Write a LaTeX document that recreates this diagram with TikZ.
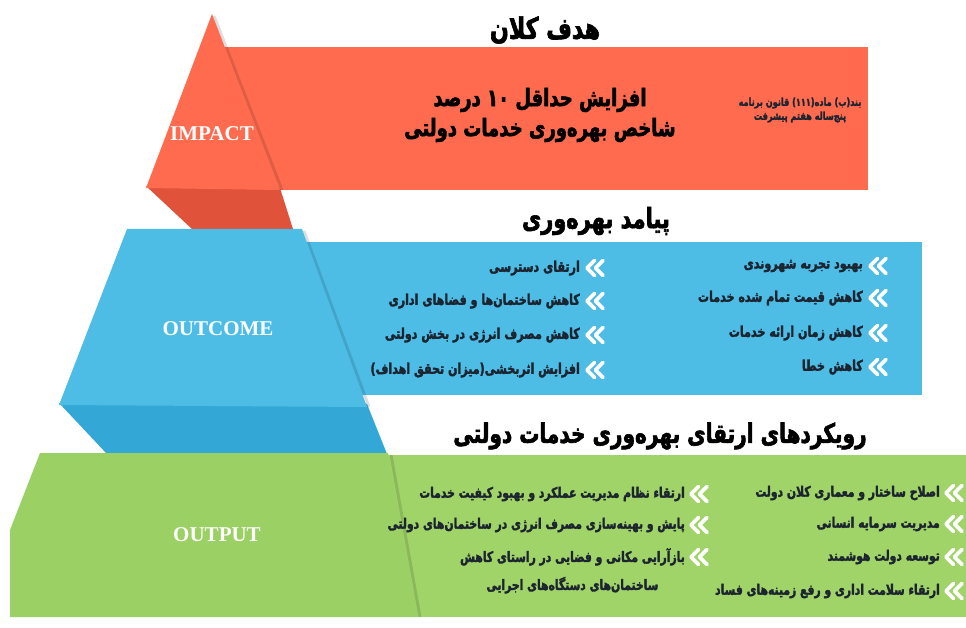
\documentclass[tikz,border=0pt]{standalone}
\usepackage{fontspec}
\setmainfont{Liberation Serif}
\newfontfamily\fa[Script=Arabic,FakeStretch=0.75,BoldFeatures={FakeBold=2.2}]{DejaVu Sans}
\TeXXeTstate=1
\definecolor{redA}{HTML}{FF6B4F}
\definecolor{redB}{HTML}{E0523A}
\definecolor{blueA}{HTML}{4DBDE6}
\definecolor{blueB}{HTML}{33A8D6}
\definecolor{greenA}{HTML}{A0D468}
\definecolor{greenB}{HTML}{9BD064}
\definecolor{ink}{HTML}{1C2430}
\newcommand\rtltext[1]{{\fa\bfseries\beginR #1\endR}}
\tikzset{
  chev/.pic={\draw[white,line width=3.6pt,line cap=round,line join=round]
     (4.5,-7.5)--(-3,0)--(4.5,7.5) (13,-7.5)--(5.5,0)--(13,7.5);},
  lvl/.style={text=white,font=\bfseries\fontsize{21}{24}\selectfont},
  head/.style={text=black},
  item/.style={text=ink,anchor=east,font=\fontsize{14.8}{16}\selectfont,inner sep=0pt},
  gitem/.style={item,font=\fontsize{14.4}{16}\selectfont},
  edge shade/.style={black,opacity=.13,line width=3pt}
}
\begin{document}
\begin{tikzpicture}[x=1pt,y=-1pt]
\useasboundingbox (0,0) rectangle (966,628);
% ---------- bands behind ----------
\fill[redA] (200,47) rectangle (868,190);
\fill[blueA] (290,242) rectangle (922,395);
\fill[greenA] (385,455) rectangle (966,617);
% ---------- connectors ----------
\fill[redB] (146,186) -- (280,188) -- (293,229) -- (192,229) -- cycle;
\fill[blueB] (59,403) -- (367,404) -- (387,454) -- (107,454) -- cycle;
% ---------- pyramid pieces ----------
\draw[edge shade] (214,16) -- (282,190);
\fill[redA] (212,14) -- (280,190) -- (146,188) -- cycle;
\draw[edge shade] (304,231) -- (369,407);
\fill[blueA] (127,229) -- (302,229) -- (367,407) -- (59,405) -- cycle;
\draw[edge shade] (391,455) -- (420,617);
\fill[greenB] (40,453) -- (388,453) -- (418,617) -- (10,617) -- (10,530) -- cycle;
% ---------- level labels ----------
\node[lvl] (impact) at (212,134) {IMPACT};
\node[lvl] (outcome) at (218,329) {OUTCOME};
\node[lvl] (output) at (217,535) {OUTPUT};
% ---------- headings ----------
\node[head,font=\fontsize{29.5}{32}\selectfont] (h1) at (545,30) {\rtltext{هدف کلان}};
\node[head,font=\fontsize{27.9}{32}\selectfont] (h2) at (596,221) {\rtltext{پیامد بهره‌وری}};
\node[head,font=\fontsize{26.8}{32}\selectfont] (h3) at (660,436) {\rtltext{رویکردهای ارتقای بهره‌وری خدمات دولتی}};
% ---------- impact text ----------
\node[text=black,font=\fontsize{24}{30}\selectfont,align=center] (goal) at (540,115)
  {\rtltext{افزایش حداقل ۱۰ درصد}\\\rtltext{شاخص بهره‌وری خدمات دولتی}};
\node[text=ink,font=\fontsize{10.9}{14}\selectfont,align=center] (note) at (800,110)
  {\rtltext{بند(ب) ماده(۱۱۱) قانون برنامه}\\\rtltext{پنج‌ساله هفتم پیشرفت}};
% ---------- outcome items ----------
\foreach \n/\y/\t in {1/268/{ارتقای دسترسی},2/301/{کاهش ساختمان‌ها و فضاهای اداری},3/335/{کاهش مصرف انرژی در بخش دولتی},4/370/{افزایش اثربخشی(میزان تحقق اهداف)}}{
  \pic at (590,\y) {chev};
  \node[item] (bl\n) at (580,\y) {\rtltext{\t}};
}
\foreach \n/\y/\t in {1/266/{بهبود تجربه شهروندی},2/298/{کاهش قیمت تمام شده خدمات},3/333/{کاهش زمان ارائه خدمات},4/367/{کاهش خطا}}{
  \pic at (873,\y) {chev};
  \node[item] (br\n) at (863,\y) {\rtltext{\t}};
}
% ---------- output items ----------
\foreach \n/\y/\t in {1/494/{ارتقاء نظام مدیریت عملکرد و بهبود کیفیت خدمات},2/525/{پایش و بهینه‌سازی مصرف انرژی در ساختمان‌های دولتی}}{
  \pic at (694,\y) {chev};
  \node[gitem] (gl\n) at (685,\y) {\rtltext{\t}};
}
\pic at (694,557) {chev};
\node[gitem,anchor=north east,align=center,font=\fontsize{14.4}{28}\selectfont] (gl3) at (685,548)
  {\rtltext{بازآرایی مکانی و فضایی در راستای کاهش}\\\rtltext{ساختمان‌های دستگاه‌های اجرایی}};
\foreach \n/\y/\t in {1/493/{اصلاح ساختار و معماری کلان دولت},2/524/{مدیریت سرمایه انسانی},3/557/{توسعه دولت هوشمند},4/591/{ارتقاء سلامت اداری و رفع زمینه‌های فساد}}{
  \pic at (949,\y) {chev};
  \node[gitem] (gr\n) at (940,\y) {\rtltext{\t}};
}
\end{tikzpicture}
\end{document}
